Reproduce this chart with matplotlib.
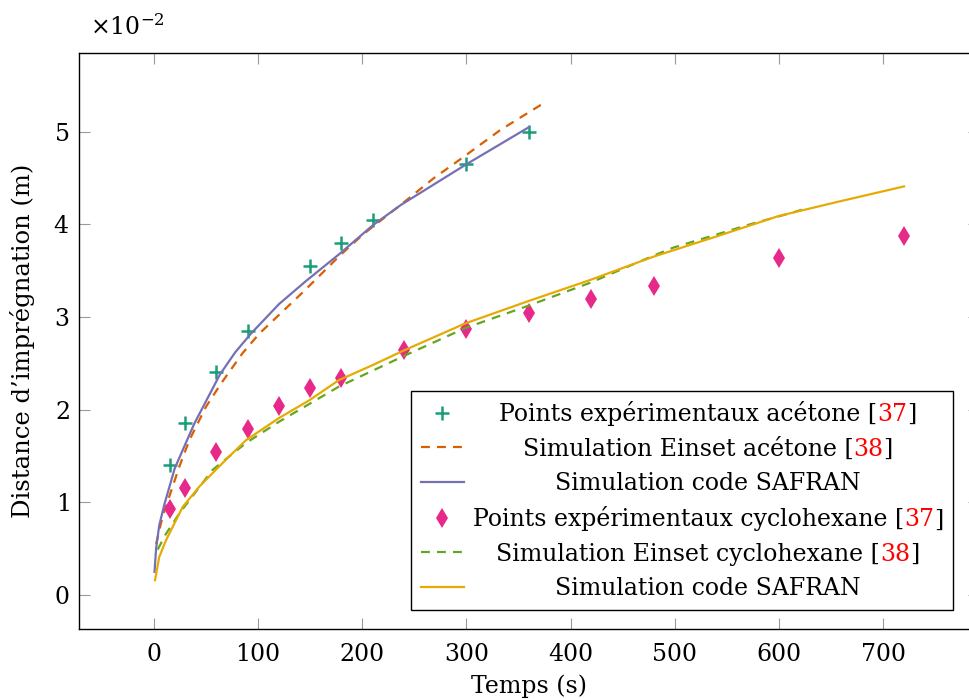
import matplotlib
matplotlib.use("Agg")
import matplotlib.pyplot as plt
from matplotlib.ticker import MultipleLocator, ScalarFormatter
from matplotlib.transforms import Affine2D

plt.rcParams['font.family'] = ['DejaVu Serif']
plt.rcParams['mathtext.fontset'] = 'dejavuserif'

SCALE = 1e-2  # values read in units of 1e-2 m

# Experimental acetone
ac_exp_t = [15, 30, 60, 90, 150, 180, 210, 300, 360]
ac_exp_y = [1.40, 1.86, 2.41, 2.85, 3.55, 3.80, 4.05, 4.65, 5.00]

# Einset acetone simulation
ac_ein_t = [2, 8.3, 24.3, 33.9, 49.8, 64.2, 85, 101, 144, 179, 201.6, 236.7, 268.7, 297.4, 332.6, 375.7]
ac_ein_y = [0.55, 0.85, 1.385, 1.67, 2.03, 2.28, 2.61, 2.82, 3.28, 3.67, 3.90, 4.21, 4.50, 4.73, 5.02, 5.32]

# SAFRAN acetone simulation
ac_saf_t = [0.5, 2, 5, 10, 20, 38.7, 63.3, 78, 93, 120, 146, 179, 210, 237, 300, 360]
ac_saf_y = [0.25, 0.50, 0.75, 0.98, 1.37, 1.85, 2.38, 2.62, 2.82, 3.14, 3.39, 3.69, 3.99, 4.21, 4.65, 5.05]

# Experimental cyclohexane
cy_exp_t = [15, 30, 60, 90, 120, 150, 180, 240, 300, 360, 420, 480, 600, 720]
cy_exp_y = [0.93, 1.16, 1.54, 1.79, 2.04, 2.23, 2.34, 2.64, 2.87, 3.04, 3.20, 3.34, 3.64, 3.87]

# Einset cyclohexane simulation
cy_ein_t = [3.5, 11.5, 24.3, 56.2, 88.2, 120, 177.6, 238, 298.5, 358.8, 418.7, 479, 498.7, 572, 613.7, 628]
cy_ein_y = [0.49, 0.66, 0.88, 1.35, 1.64, 1.87, 2.25, 2.57, 2.88, 3.12, 3.37, 3.66, 3.75, 4.00, 4.13, 4.18]

# SAFRAN cyclohexane simulation
cy_saf_t = [1, 5, 11.5, 27.5, 43.5, 69, 88.2, 120, 148.9, 177.6, 209.6, 240, 298.5, 358.8, 418.7, 479, 540, 599.5, 655, 720]
cy_saf_y = [0.16, 0.41, 0.59, 0.95, 1.17, 1.46, 1.67, 1.91, 2.10, 2.32, 2.48, 2.64, 2.93, 3.17, 3.40, 3.65, 3.87, 4.09, 4.24, 4.41]

labels = [
    ("Points expérimentaux acétone [", "37", "]"),
    ("Simulation Einset acétone [", "38", "]"),
    ("Simulation code SAFRAN", "", ""),
    ("Points expérimentaux cyclohexane [", "37", "]"),
    ("Simulation Einset cyclohexane [", "38", "]"),
    ("Simulation code SAFRAN", "", ""),
]

c_green = '#1b9e77'
c_orange = '#d95f02'
c_purple = '#7570b3'
c_pink = '#e7298a'
c_lgreen = '#66a61e'
c_yellow = '#e6ab02'

FS = 17
fig = plt.figure(figsize=(9.70, 6.99), dpi=100)
ax = fig.add_axes([79/970, 1-629/699, 900/970, 576/699])

sc = lambda v: [x * SCALE for x in v]
lw = 1.6
dash = (4, 3.2)
h1, = ax.plot(ac_exp_t, sc(ac_exp_y), linestyle='none', marker='+', ms=9.5, mew=1.8, color=c_green)
h2, = ax.plot(ac_ein_t, sc(ac_ein_y), linestyle=(0, dash), lw=lw, color=c_orange)
h3, = ax.plot(ac_saf_t, sc(ac_saf_y), lw=lw, color=c_purple)
h4, = ax.plot(cy_exp_t, sc(cy_exp_y), linestyle='none', marker='d', ms=10, mew=0, color=c_pink)
h5, = ax.plot(cy_ein_t, sc(cy_ein_y), linestyle=(0, dash), lw=lw, color=c_lgreen)
h6, = ax.plot(cy_saf_t, sc(cy_saf_y), lw=lw, color=c_yellow)

ax.set_xlim(-72, 792)
ax.set_ylim(-0.367 * SCALE, 5.85 * SCALE)
ax.xaxis.set_major_locator(MultipleLocator(100))
ax.yaxis.set_major_locator(MultipleLocator(1 * SCALE))
fmt = ScalarFormatter(useMathText=True)
fmt.set_powerlimits((-1, 1))
ax.yaxis.set_major_formatter(fmt)
ot = ax.yaxis.get_offset_text()
ot.set_fontsize(FS)
ot.set_x(11/900)
ax.yaxis.OFFSETTEXTPAD = 13

ax.tick_params(direction='in', length=8, width=0.8, color='#9a9a9a',
               top=True, right=True, labelsize=FS, pad=7)
ax.tick_params(axis='x', pad=10)
for s in ax.spines.values():
    s.set_linewidth(1.0)
    s.set_color('black')

ax.set_xlabel("Temps (s)", fontsize=FS, labelpad=6)
ax.set_ylabel("Distance d’imprégnation (m)", fontsize=17.5, labelpad=13)

full = [a + b + c for a, b, c in labels]
leg = ax.legend([h1, h2, h3, h4, h5, h6], full, loc='lower right',
                bbox_to_anchor=(874/900, 19/576), borderaxespad=0,
                fontsize=FS, frameon=True, fancybox=False, edgecolor='black',
                framealpha=1, borderpad=0.42, handlelength=1.82,
                handletextpad=0.38, labelspacing=0.48, numpoints=1)
leg.get_frame().set_linewidth(1.0)

fig.canvas.draw()
renderer = fig.canvas.get_renderer()
texts = leg.get_texts()
widths = [t.get_window_extent(renderer).width for t in texts]
W = max(widths)
for t, w, (a, b, c) in zip(texts, widths, labels):
    dx = (W - w) / 2
    t.set_transform(t.get_transform() + Affine2D().translate(dx, 0))
    t.set_alpha(0)
    p1 = ax.annotate(a, xy=(0, 0), xycoords=t, ha='left', va='bottom',
                     fontsize=FS, color='black', annotation_clip=False, zorder=10)
    if b:
        p2 = ax.annotate(b, xy=(1, 0), xycoords=p1, ha='left', va='bottom',
                         fontsize=FS, color='red', annotation_clip=False, zorder=10)
        ax.annotate(c, xy=(1, 0), xycoords=p2, ha='left', va='bottom',
                    fontsize=FS, color='black', annotation_clip=False, zorder=10)

fig.savefig("out.png", dpi=100)
